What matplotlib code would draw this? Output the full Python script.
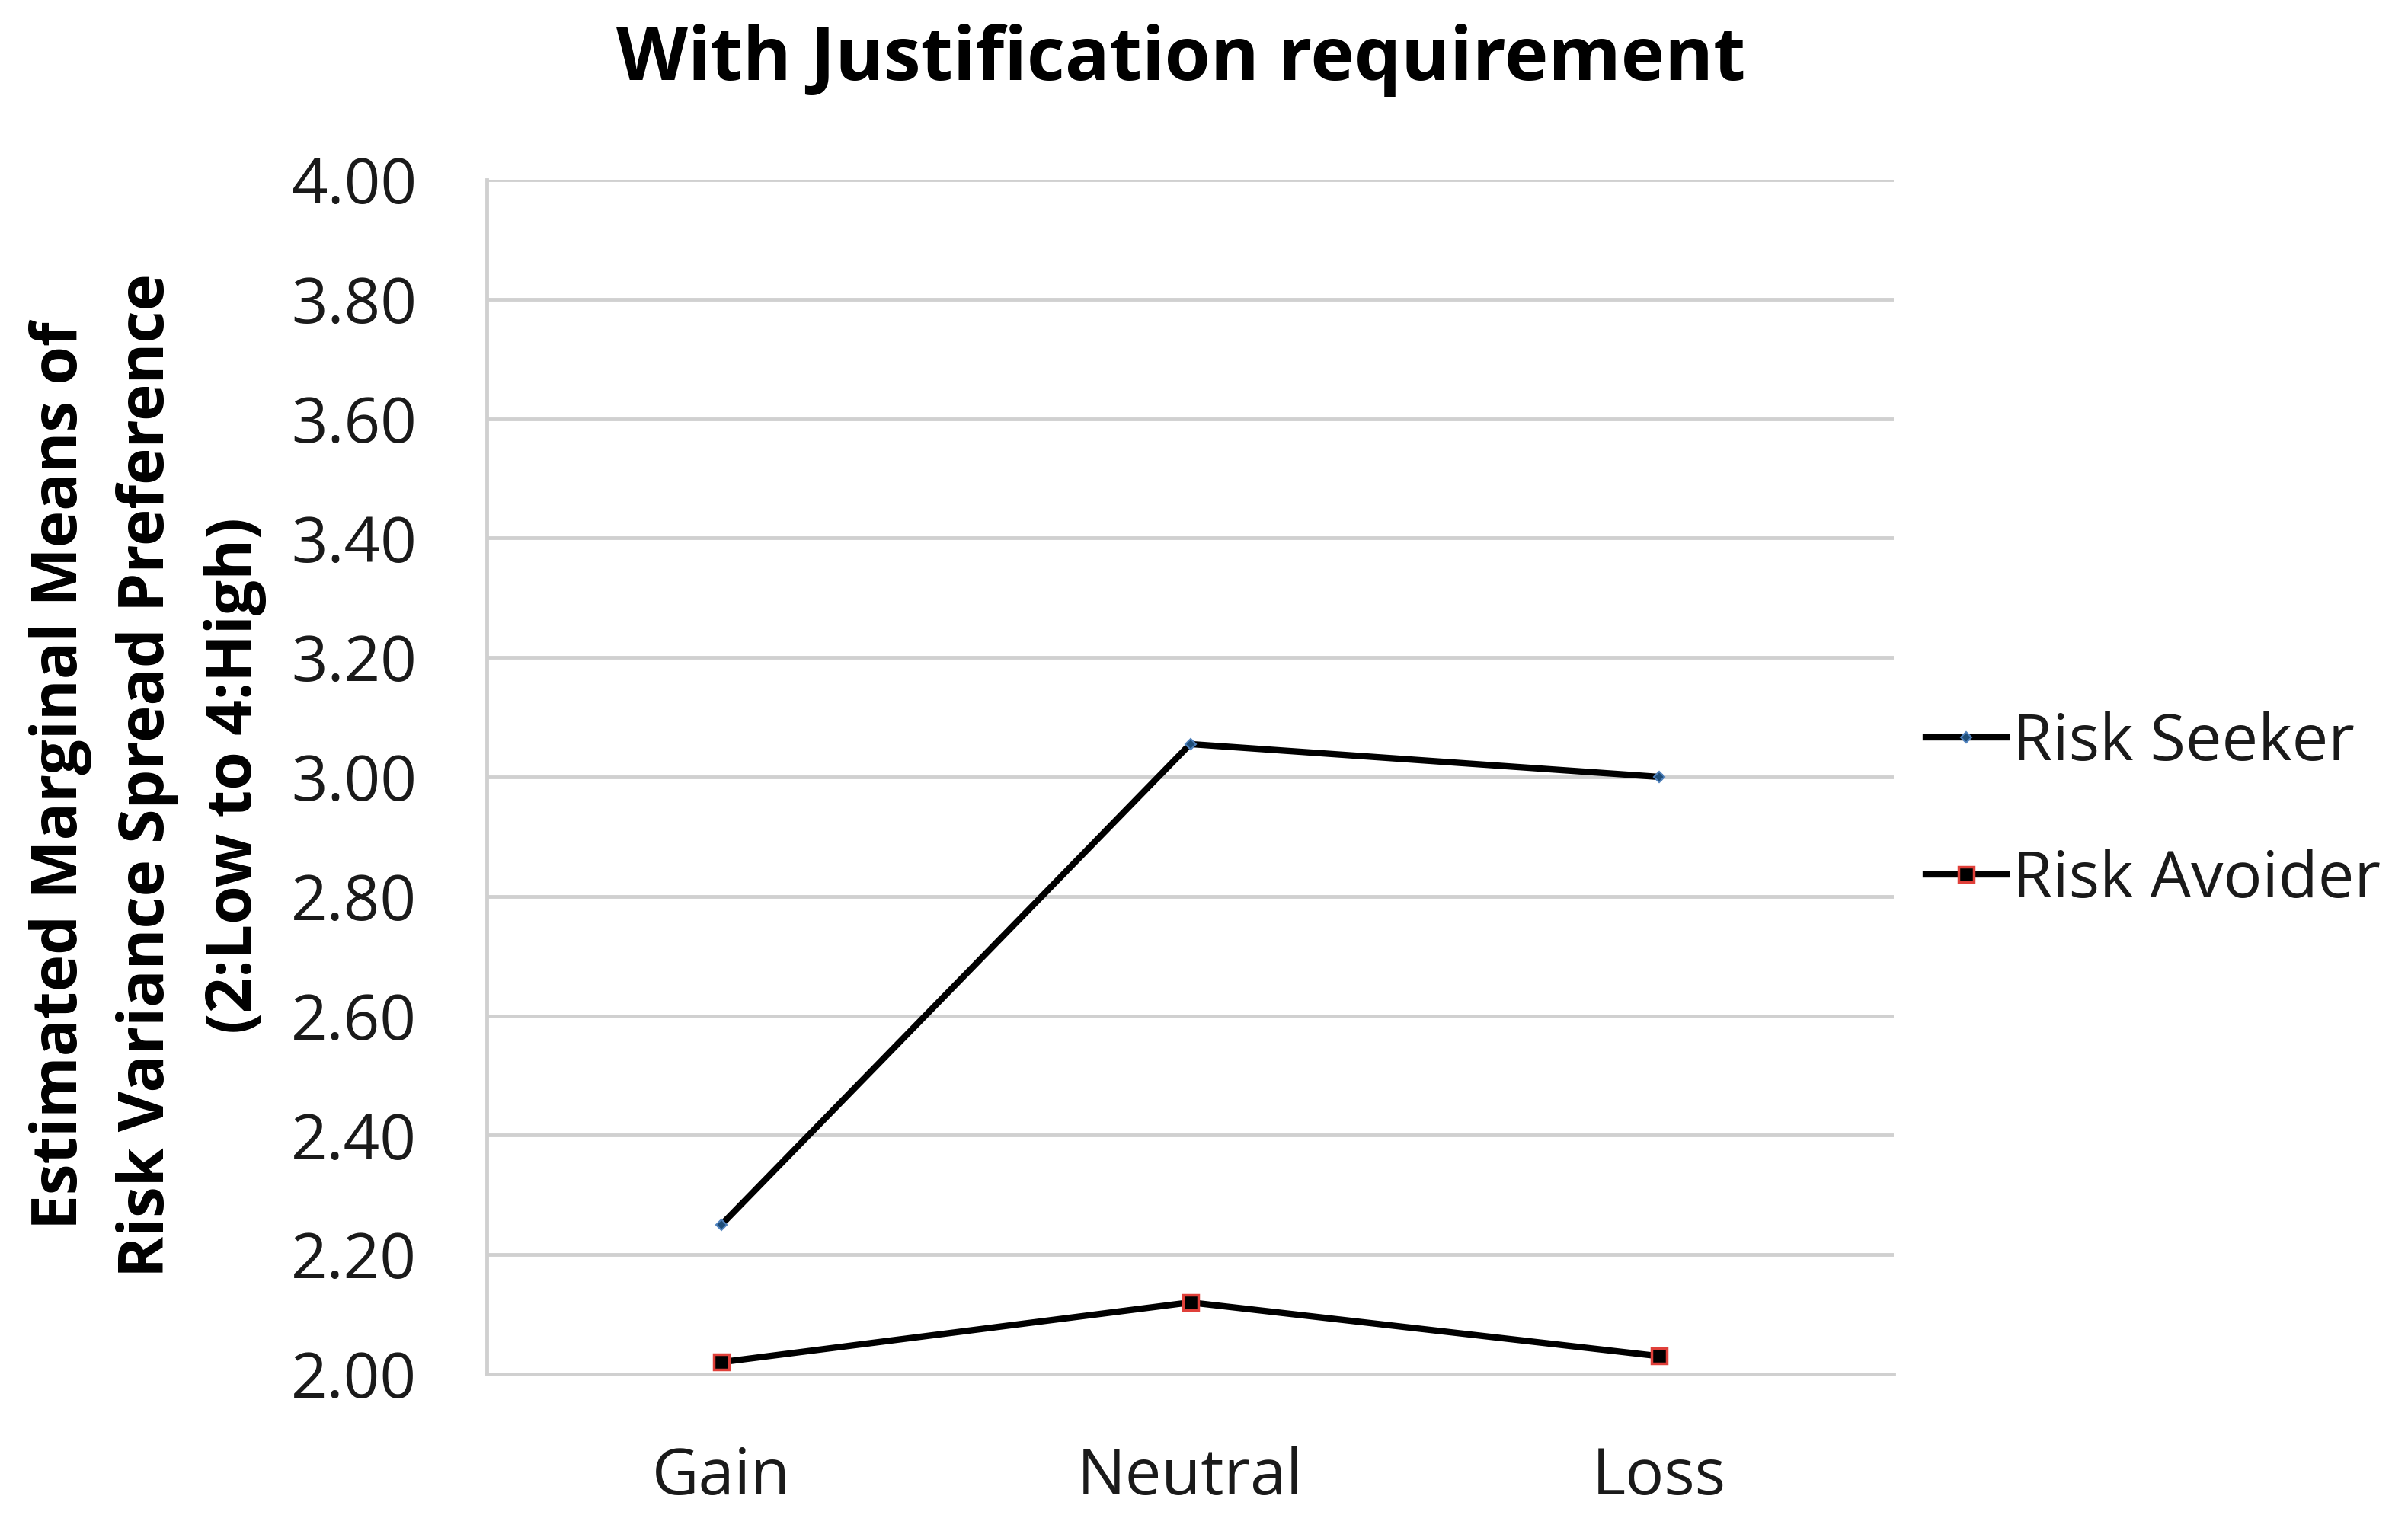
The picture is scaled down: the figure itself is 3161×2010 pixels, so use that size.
import matplotlib
matplotlib.use("Agg")
import matplotlib.pyplot as plt

categories = ["Gain", "Neutral", "Loss"]
risk_seeker = [2.25, 3.055, 3.00]
risk_avoider = [2.02, 2.12, 2.03]
series_labels = ["Risk Seeker", "Risk Avoider"]
yticks = [2.00, 2.20, 2.40, 2.60, 2.80, 3.00, 3.20, 3.40, 3.60, 3.80, 4.00]
title = "With Justification requirement"
ylabel = "Estimated Marginal Means of\nRisk Variance Spread Preference\n(2:Low to 4:High)"

plt.rcParams['font.family'] = ['Open Sans', 'DejaVu Sans']

W, H = 3161, 2010
fig = plt.figure(figsize=(W / 100, H / 100), dpi=100)
ax = fig.add_axes([639 / W, 1 - 1804 / H, (2486 - 639) / W, (1804 - 236) / H])

x = list(range(len(categories)))
ax.plot(x, risk_seeker, color='black', lw=6, marker='D', markersize=7,
        markerfacecolor='#1f4e79', markeredgecolor='#4f81bd', markeredgewidth=1.5,
        label=series_labels[0], zorder=3, solid_joinstyle='round')
ax.plot(x, risk_avoider, color='black', lw=6, marker='s', markersize=15,
        markerfacecolor='black', markeredgecolor='#e0403a', markeredgewidth=2.5,
        label=series_labels[1], zorder=3, solid_joinstyle='round')

ax.set_xlim(-0.5, len(categories) - 0.5)
ax.set_ylim(2.0, 4.0)
ax.set_yticks(yticks)
ax.set_yticklabels([f"{v:.2f}" for v in yticks])
ax.set_xticks(x)
ax.set_xticklabels(categories)
ax.tick_params(axis='both', length=0, labelsize=60, colors='#1a1a1a')
ax.tick_params(axis='y', pad=66)
ax.tick_params(axis='x', pad=68)
for lab in ax.get_xticklabels():
    lab.set_fontsize(61)

ax.grid(axis='y', color='#d0d0d0', lw=3.5)
ax.set_axisbelow(True)
for s in ['top', 'right']:
    ax.spines[s].set_visible(False)
for s in ['left', 'bottom']:
    ax.spines[s].set_color('#d0d0d0')
    ax.spines[s].set_linewidth(3.5)

fig.text(1550 / W, 1 - 80 / H, title, ha='center', va='center',
         fontsize=70, fontweight='bold', color='black')
fig.text(194 / W, 1 - 1018 / H, ylabel, ha='center', va='center', rotation=90,
         fontsize=59, fontweight='bold', color='black', linespacing=1.5,
         multialignment='center')

leg = ax.legend(loc='center left', bbox_to_anchor=(2528 / W, 1 - 1066 / H),
                bbox_transform=fig.transFigure, frameon=False, fontsize=61,
                handlelength=1.25, handletextpad=0.1, labelspacing=1.13,
                borderaxespad=0, borderpad=0)
for t in leg.get_texts():
    t.set_color('#1a1a1a')

fig.savefig("out.png", dpi=100, facecolor='white')
